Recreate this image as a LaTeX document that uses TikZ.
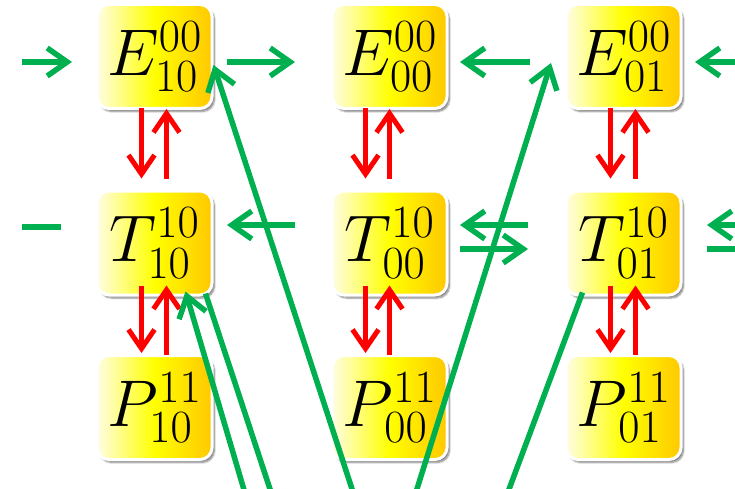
\RequirePackage{fix-cm}
\documentclass[tikz,border=0pt]{standalone}
\usepackage{tikz}
\usetikzlibrary{arrows.meta, shadows.blur}
\definecolor{cellpale}{RGB}{255,253,228}
\definecolor{cellgold}{RGB}{255,200,0}
\definecolor{flowgreen}{RGB}{0,176,80}

\begin{document}
\begin{tikzpicture}[x=1pt, y=-1pt,
    statebox/.style={rectangle, rounded corners=12pt, draw=white, line width=3pt,
        minimum width=115pt, minimum height=104pt, inner sep=0pt,
        left color=cellpale, right color=cellgold, middle color=yellow,
        blur shadow={shadow xshift=2.5pt, shadow yshift=-3pt, shadow blur steps=6, shadow opacity=50},
        font=\fontsize{66}{74}\selectfont},
    gline/.style={line width=5.5pt, color=flowgreen},
    gflow/.style={gline, -{Straight Barb[length=20pt, width=28pt]}},
    rflow/.style={line width=5pt, color=red, -{Straight Barb[length=19pt, width=26pt]}}]
    \useasboundingbox (0,0) rectangle (735,489);
    \clip (0,0) rectangle (735,489);

    % States
    \node[statebox] (E10) at (154.5,56.5) {$E^{00}_{10}$};
    \node[statebox] (E00) at (389.5,56.5) {$E^{00}_{00}$};
    \node[statebox] (E01) at (623.5,56.5) {$E^{00}_{01}$};
    \node[statebox] (T10) at (154.5,243) {$T^{10}_{10}$};
    \node[statebox] (T00) at (389.5,243) {$T^{10}_{00}$};
    \node[statebox] (T01) at (623.5,243) {$T^{10}_{01}$};
    \node[statebox] (P10) at (154.5,407.5) {$P^{11}_{10}$};
    \node[statebox] (P00) at (389.5,407.5) {$P^{11}_{00}$};
    \node[statebox] (P01) at (623.5,407.5) {$P^{11}_{01}$};

    % Vertical exchanges (red)
    \draw[rflow, shorten <=-2pt, shorten >=11pt] ([xshift=-13pt]E10.south) -- ([xshift=-13pt]T10.north);
    \draw[rflow, shorten <=11pt, shorten >=-1pt] ([xshift=12pt]T10.north) -- ([xshift=12pt]E10.south);
    \draw[rflow, shorten <=-11pt, shorten >=1pt] ([xshift=-13pt]T10.south) -- ([xshift=-13pt]P10.north);
    \draw[rflow, shorten <=-1pt, shorten >=-11pt] ([xshift=12pt]P10.north) -- ([xshift=12pt]T10.south);

    \draw[rflow, shorten <=-2pt, shorten >=11pt] ([xshift=-24pt]E00.south) -- ([xshift=-24pt]T00.north);
    \draw[rflow, shorten <=11pt, shorten >=-1pt] (T00.north) -- (E00.south);
    \draw[rflow, shorten <=-11pt, shorten >=1pt] ([xshift=-24pt]T00.south) -- ([xshift=-24pt]P00.north);
    \draw[rflow, shorten <=-1pt, shorten >=-11pt] (P00.north) -- (T00.south);

    \draw[rflow, shorten <=-2pt, shorten >=11pt] ([xshift=-13pt]E01.south) -- ([xshift=-13pt]T01.north);
    \draw[rflow, shorten <=11pt, shorten >=-1pt] ([xshift=12pt]T01.north) -- ([xshift=12pt]E01.south);
    \draw[rflow, shorten <=-11pt, shorten >=1pt] ([xshift=-13pt]T01.south) -- ([xshift=-13pt]P01.north);
    \draw[rflow, shorten <=-1pt, shorten >=-11pt] ([xshift=12pt]P01.north) -- ([xshift=12pt]T01.south);

    % Horizontal flows, top row
    \coordinate (inE) at (22,62);
    \coordinate (outE) at (745,62);
    \draw[gflow, shorten >=23.5pt] (inE) -- (inE -| E10.west);
    \draw[gflow, shorten <=13.5pt, shorten >=35.5pt] ([yshift=-5.5pt]E10.east) -- ([yshift=-5.5pt]E00.west);
    \draw[gflow, shorten <=34.5pt, shorten >=11.5pt] ([yshift=-5.5pt]E01.west) -- ([yshift=-5.5pt]E00.east);
    \draw[gflow, shorten >=12.5pt] (outE) -- (outE -| E01.east);

    % Horizontal flows, middle row
    \coordinate (inT) at (22,227);
    \coordinate (outT) at (745,225);
    \coordinate (outTb) at (745,249);
    \draw[gline, shorten >=34.5pt] (inT) -- (inT -| T10.west);
    \draw[gflow, shorten <=35.5pt, shorten >=13.5pt] ([yshift=18pt]T00.west) -- ([yshift=18pt]T10.east);
    \draw[gflow, shorten <=36.5pt, shorten >=11.5pt] ([yshift=18pt]T01.west) -- ([yshift=18pt]T00.east);
    \draw[gflow, shorten <=11.5pt, shorten >=36.5pt] ([yshift=-6pt]T00.east) -- ([yshift=-6pt]T01.west);
    \draw[gflow, shorten >=24.5pt] (outT) -- (outT -| T01.east);
    \draw[gline, shorten <=24.5pt] ([yshift=-6pt]T01.east) -- (outTb);

    % Long diagonals (leave the frame at the bottom)
    \coordinate (b1) at (247,500);
    \coordinate (b2) at (273.6,500);
    \coordinate (b3) at (355.6,500);
    \coordinate (b4) at (413.5,500);
    \coordinate (b5) at (505,500);
    \draw[gflow] (b1) -- ([xshift=31pt,yshift=5pt]T10.south);
    \draw[gline] ([xshift=51pt,yshift=3pt]T10.south) -- (b2);
    \draw[gflow] (b3) -- ([yshift=-8.5pt]E10.east);
    \draw[gflow] (b4) -- ([xshift=-13.5pt,yshift=-6.5pt]E01.west);
    \draw[gline] ([xshift=-41pt,yshift=4pt]T01.south) -- (b5);
\end{tikzpicture}
\end{document}
